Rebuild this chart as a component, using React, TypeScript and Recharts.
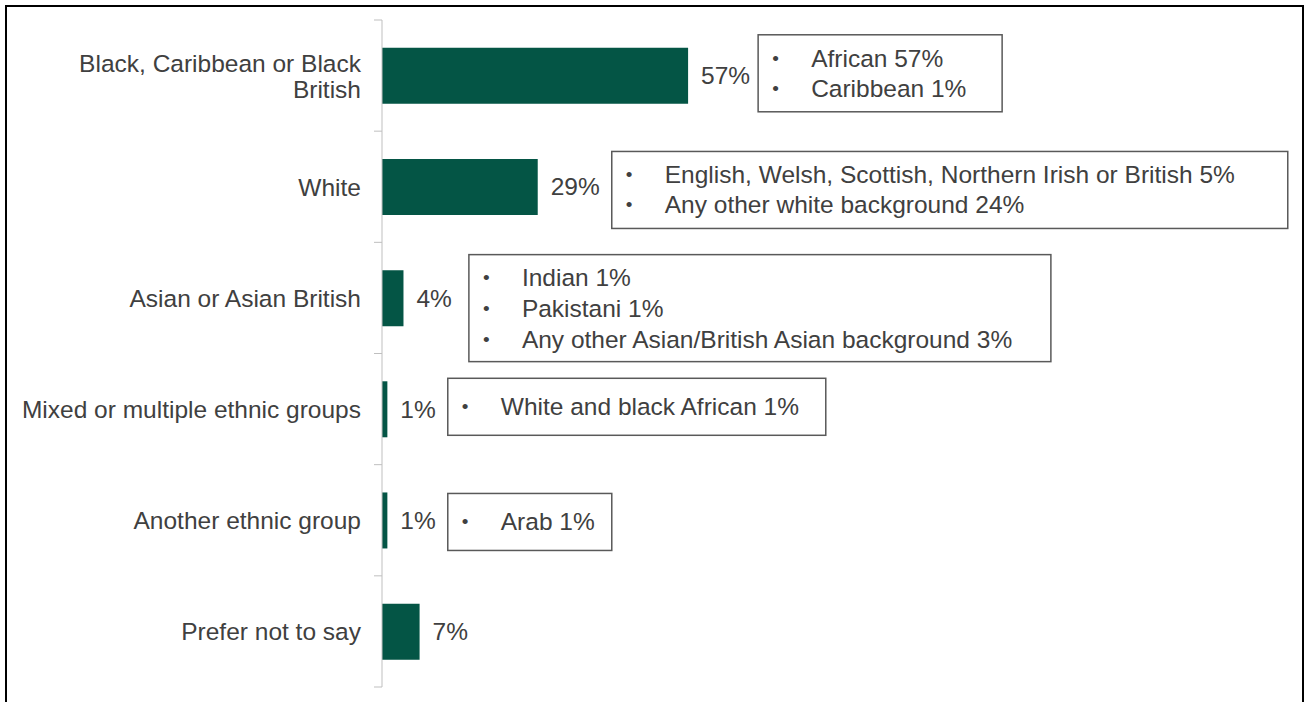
import React from 'react';
import { BarChart, Bar, XAxis, YAxis, LabelList } from 'recharts';

const CATEGORIES = [
  'Black, Caribbean or Black British',
  'White',
  'Asian or Asian British',
  'Mixed or multiple ethnic groups',
  'Another ethnic group',
  'Prefer not to say',
];
const VALUES = [57, 29, 4, 1, 1, 7];
const DETAILS: string[][] = [
  ['African 57%', 'Caribbean 1%'],
  ['English, Welsh, Scottish, Northern Irish or British 5%', 'Any other white background 24%'],
  ['Indian 1%', 'Pakistani 1%', 'Any other Asian/British Asian background 3%'],
  ['White and black African 1%'],
  ['Arab 1%'],
  [],
];

// layout of the breakdown boxes (width, nudges)
const BOX_W = [244, 676, 582, 378, 164, 0];
const BOX_DX = [-4, 0, 5, 0, 0, 0];
const BOX_DY = [-2.5, 3, 10, -2.5, 1.5, 0];

const W = 1309;
const H = 702;
const MARGIN = { top: 20, right: 390, bottom: 15, left: 0 };
const AXIS_W = 382;
const BAND = (H - MARGIN.top - MARGIN.bottom) / CATEGORIES.length;
const FONT = '"Liberation Sans", Arial, sans-serif';
const FS = 24.5;
const TEXT = '#404040';
const BAR = '#045545';
const AXIS = '#BFBFBF';

const rows = CATEGORIES.map((category, i) => ({ category, value: VALUES[i], details: DETAILS[i] }));

let ctx: CanvasRenderingContext2D | null = null;
function measure(s: string) {
  if (!ctx) ctx = document.createElement('canvas').getContext('2d');
  if (!ctx) return s.length * FS * 0.5;
  ctx.font = `${FS}px "Liberation Sans"`;
  return ctx.measureText(s).width;
}

function wrap(text: string, maxW: number) {
  const words = text.split(' ');
  const lines: string[] = [];
  let cur = '';
  for (const w of words) {
    const next = cur ? cur + ' ' + w : w;
    if (cur && measure(next) > maxW) {
      lines.push(cur);
      cur = w;
    } else cur = next;
  }
  if (cur) lines.push(cur);
  return lines;
}

function CategoryTick(props: any) {
  const { x, y, payload, index } = props;
  const lines = wrap(String(payload.value), 348);
  const lh = 26;
  const y0 = y - ((lines.length - 1) * lh) / 2;
  const last = index === CATEGORIES.length - 1;
  return (
    <g>
      <line x1={x + 13} x2={x + 21} y1={y - BAND / 2} y2={y - BAND / 2} stroke={AXIS} />
      {last && <line x1={x + 13} x2={x + 21} y1={y + BAND / 2} y2={y + BAND / 2} stroke={AXIS} />}
      <text x={x} y={y0} textAnchor="end" fill={TEXT} fontSize={FS} fontFamily={FONT} dominantBaseline="central">
        {lines.map((l, i) => (
          <tspan key={i} x={x} dy={i === 0 ? 0 : lh}>
            {l}
          </tspan>
        ))}
      </text>
    </g>
  );
}

function ValueLabel(props: any) {
  const { x, y, width, height, value, index } = props;
  const cy = y + height / 2;
  const lx = x + width + 13;
  const label = `${value}%`;
  const det = DETAILS[index] || [];
  const boxX = lx + measure(label) + 12 + (BOX_DX[index] || 0);
  const n = det.length;
  const boxH = n === 1 ? 57 : 30 * n + 17;
  const boxCy = cy + (BOX_DY[index] || 0);
  const lineGap = n === 3 ? 31 : 30;
  return (
    <g>
      <text x={lx} y={cy} fill={TEXT} fontSize={FS} fontFamily={FONT} dominantBaseline="central">
        {label}
      </text>
      {n > 0 && (
        <g>
          <rect x={boxX} y={boxCy - boxH / 2} width={BOX_W[index]} height={boxH} fill="#fff" stroke="#595959" strokeWidth={1.5} />
          {det.map((d, i) => {
            const ty = boxCy + (i - (n - 1) / 2) * lineGap;
            return (
              <g key={i}>
                <text x={boxX + 14} y={ty} fill={TEXT} fontSize={19} fontFamily={FONT} dominantBaseline="central">
                  •
                </text>
                <text x={boxX + 53} y={ty} fill={TEXT} fontSize={FS} fontFamily={FONT} dominantBaseline="central">
                  {d}
                </text>
              </g>
            );
          })}
        </g>
      )}
    </g>
  );
}

export default function App() {
  return (
    <div style={{ position: 'absolute', left: 0, top: 0, width: W, height: H, background: '#fff', overflow: 'hidden' }}>
      <div
        style={{
          position: 'absolute',
          left: 5,
          top: 5,
          width: 1299,
          height: 720,
          border: '2.5px solid #000',
          boxSizing: 'border-box',
        }}
      />
      <div style={{ position: 'absolute', left: 0, top: 0 }}>
        <BarChart width={W} height={H} data={rows} layout="vertical" margin={MARGIN} barCategoryGap="25%">
          <XAxis type="number" domain={[0, 100]} hide />
          <YAxis
            type="category"
            dataKey="category"
            width={AXIS_W}
            axisLine={{ stroke: AXIS }}
            tickLine={false}
            tickSize={8}
            tickMargin={13}
            interval={0}
            tick={<CategoryTick />}
          />
          <Bar dataKey="value" fill={BAR} isAnimationActive={false}>
            <LabelList dataKey="value" content={<ValueLabel />} />
          </Bar>
        </BarChart>
      </div>
    </div>
  );
}
